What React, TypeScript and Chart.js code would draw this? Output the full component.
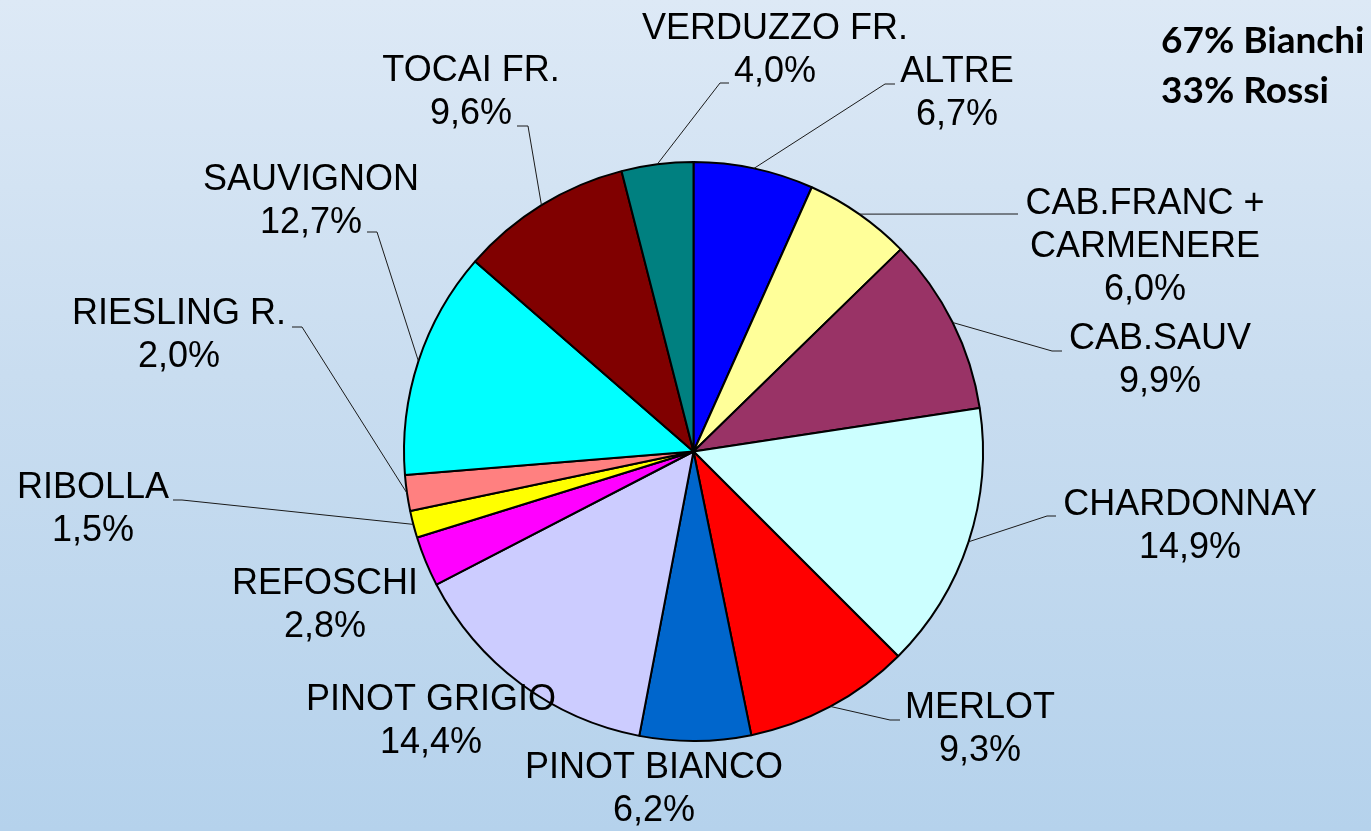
import React, { useEffect, useRef } from "react";
import { Chart, registerables } from "chart.js";

Chart.register(...registerables);

const categories: string[][] = [
  ["ALTRE"],
  ["CAB.FRANC +", "CARMENERE"],
  ["CAB.SAUV"],
  ["CHARDONNAY"],
  ["MERLOT"],
  ["PINOT BIANCO"],
  ["PINOT GRIGIO"],
  ["REFOSCHI"],
  ["RIBOLLA"],
  ["RIESLING R."],
  ["SAUVIGNON"],
  ["TOCAI FR."],
  ["VERDUZZO FR."],
];

const shares: number[] = [6.7, 6.0, 9.9, 14.9, 9.3, 6.2, 14.4, 2.8, 1.5, 2.0, 12.7, 9.6, 4.0];

const sliceColors: string[] = [
  "#0000FF",
  "#FFFF99",
  "#993366",
  "#CCFFFF",
  "#FF0000",
  "#0066CC",
  "#CCCCFF",
  "#FF00FF",
  "#FFFF00",
  "#FF8080",
  "#00FFFF",
  "#800000",
  "#008080",
];

const summaryLines: string[] = ["67% Bianchi", "33% Rossi"];

// label layout: block centre x, first-line middle y, optional leader elbow + stub end x
type Place = { x: number; y: number; elbow?: [number, number, number] };
const labelPlacement: Place[] = [
  { x: 957, y: 72, elbow: [885, 84, 895] },
  { x: 1145, y: 204, elbow: [1008, 214, 1018] },
  { x: 1160, y: 339, elbow: [1052, 351, 1062] },
  { x: 1190, y: 505, elbow: [1047, 516, 1056] },
  { x: 980, y: 708, elbow: [890, 720, 900] },
  { x: 654, y: 768 },
  { x: 431, y: 700 },
  { x: 325, y: 584 },
  { x: 93, y: 488, elbow: [182, 500, 173] },
  { x: 179, y: 314, elbow: [302, 327, 292] },
  { x: 311, y: 180, elbow: [377, 232, 367] },
  { x: 471, y: 71, elbow: [528, 126, 517] },
  { x: 775, y: 29, elbow: [720, 83, 729] },
];

const fmt = (v: number) => v.toFixed(1).replace(".", ",") + "%";

const labelPlugin = {
  id: "pieLabels",
  afterDatasetsDraw(chart: any) {
    const ctx: CanvasRenderingContext2D = chart.ctx;
    const meta = chart.getDatasetMeta(0);
    ctx.save();
    // leader lines
    ctx.strokeStyle = "#1a1a1a";
    ctx.lineWidth = 1;
    meta.data.forEach((arc: any, i: number) => {
      const p = labelPlacement[i];
      if (!p || !p.elbow) return;
      const { x, y, startAngle, endAngle, outerRadius } = arc.getProps(
        ["x", "y", "startAngle", "endAngle", "outerRadius"],
        true
      );
      const mid = (startAngle + endAngle) / 2;
      const sx = x + Math.cos(mid) * outerRadius;
      const sy = y + Math.sin(mid) * outerRadius;
      ctx.beginPath();
      ctx.moveTo(sx, sy);
      ctx.lineTo(p.elbow[0], p.elbow[1]);
      ctx.lineTo(p.elbow[2], p.elbow[1]);
      ctx.stroke();
    });
    // label text
    ctx.fillStyle = "#000000";
    ctx.font = '36px "Liberation Sans", Arial, sans-serif';
    ctx.textAlign = "center";
    ctx.textBaseline = "middle";
    const lh = 43;
    categories.forEach((name, i) => {
      const p = labelPlacement[i];
      const lines = [...name, fmt(shares[i])];
      lines.forEach((t, k) => {
        ctx.fillText(t, p.x, p.y + k * lh);
      });
    });
    // summary
    ctx.font = 'bold 37px Lato, "Open Sans", sans-serif';
    ctx.textAlign = "left";
    summaryLines.forEach((t, k) => {
      ctx.fillText(t, 1161, 41 + k * 50);
    });
    ctx.restore();
  },
};

export default function App() {
  const ref = useRef<HTMLCanvasElement | null>(null);
  useEffect(() => {
    if (!ref.current) return;
    const chart = new Chart(ref.current, {
      type: "pie",
      data: {
        labels: categories.map((c) => c.join(" ")),
        datasets: [
          {
            data: shares,
            backgroundColor: sliceColors,
            borderColor: "#000000",
            borderWidth: 2,
          },
        ],
      },
      options: {
        responsive: false,
        animation: false,
        layout: { padding: { top: 161, bottom: 89, left: 101, right: 85 } },
        plugins: {
          legend: { display: false },
          tooltip: { enabled: false },
        },
      },
      plugins: [labelPlugin],
    });
    return () => chart.destroy();
  }, []);
  return (
    <div
      style={{
        position: "absolute",
        left: 0,
        top: 0,
        width: 1371,
        height: 831,
        background:
          "linear-gradient(to bottom, #dde9f6 0%, #c9ddf0 45%, #b5d2ec 100%)",
      }}
    >
      <canvas ref={ref} width={1371} height={831} />
    </div>
  );
}
